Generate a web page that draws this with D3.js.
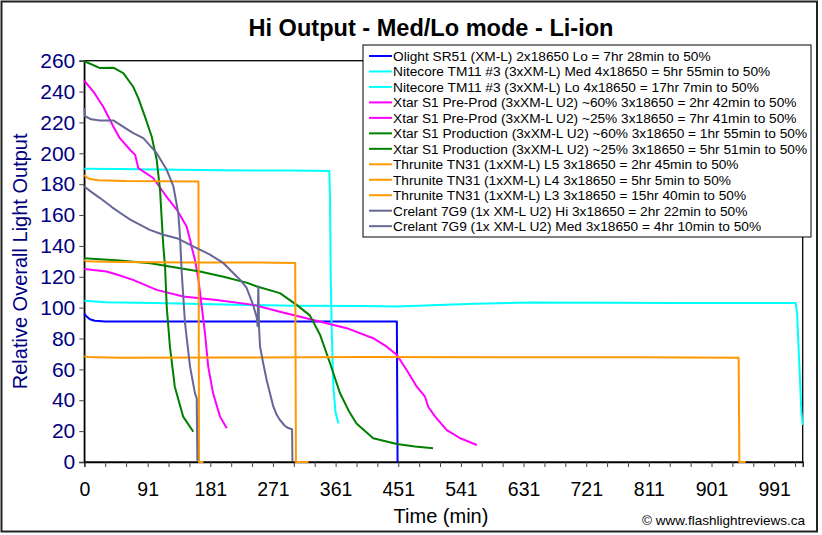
<!DOCTYPE html>
<html><head><meta charset="utf-8">
<script src="https://cdn.jsdelivr.net/npm/d3@7"></script>
<style>
html,body{margin:0;padding:0;background:#fff;}
svg{display:block;font-family:"Liberation Sans",Arial,sans-serif;}
</style></head>
<body>
<script>
// ---- DATA ----
const seriesNames = [
  "Olight SR51 (XM-L) 2x18650 Lo = 7hr 28min to 50%",
  "Nitecore TM11 #3 (3xXM-L) Med 4x18650 = 5hr 55min to 50%",
  "Nitecore TM11 #3 (3xXM-L) Lo 4x18650 = 17hr 7min to 50%",
  "Xtar S1 Pre-Prod (3xXM-L U2) ~60% 3x18650 = 2hr 42min to 50%",
  "Xtar S1 Pre-Prod (3xXM-L U2) ~25% 3x18650 = 7hr 41min to 50%",
  "Xtar S1 Production (3xXM-L U2) ~60% 3x18650 = 1hr 55min to 50%",
  "Xtar S1 Production (3xXM-L U2) ~25% 3x18650 = 5hr 51min to 50%",
  "Thrunite TN31 (1xXM-L) L5 3x18650 = 2hr 45min to 50%",
  "Thrunite TN31 (1xXM-L) L4 3x18650 = 5hr 5min to 50%",
  "Thrunite TN31 (1xXM-L) L3 3x18650 = 15hr 40min to 50%",
  "Crelant 7G9 (1x XM-L U2) Hi 3x18650 = 2hr 22min to 50%",
  "Crelant 7G9 (1x XM-L U2) Med 3x18650 = 4hr 10min to 50%"
];
const seriesColors = ["#0000ff","#00ffff","#00ffff","#ff00ff","#ff00ff","#008000","#008000",
  "#ff9900","#ff9900","#ff9900","#666699","#666699"];

// [time (min), relative output]
const olightLo = [[0,96],[3,94.5],[8,92.5],[15,91.5],[30,91],[100,91],[200,91],[300,91],[400,91],[449,91],[449.5,45],[450,0]];
const nitecoreMed = [[0,190],[50,189.8],[100,189.5],[200,189],[300,188.8],[352,188.5],[353,170],[354,120],[355.5,85],[357,60],[358,47],[361,32],[365,25]];
const nitecoreLo = [[0,104.5],[30,103.5],[100,103],[200,102],[300,101.2],[400,101],[449,100.8],[500,101.5],[560,102.5],[640,103.3],[750,103.2],[850,103],[950,103],[1022,103],[1024,96],[1026,75],[1028,55],[1030,33],[1032,24]];
const xtarPre60 = [[0,247],[13,240],[27,230.3],[41.7,217.4],[51,209.8],[65.7,202.3],[73,199],[77.6,190.4],[99,184],[118,172],[133,163.4],[147,152.5],[152,144],[154,139.6],[159,131],[164,118],[168.7,100.7],[173.4,83.4],[178,61.8],[185,44.5],[195,29.4],[204.6,21.8]];
const xtarPre25 = [[0,125],[32,123.4],[50,121],[70,118],[104,111.5],[142,107.2],[190,105],[243,101.8],[281,97.4],[329,92],[377,86.7],[415,80.2],[434.5,74.7],[449,69.4],[463,59.6],[477.6,48.8],[489.5,42.3],[494,35.8],[504,29.4],[520.7,20.7],[540,15.4],[564,11]];
const xtarProd60 = [[0,260],[1,259.5],[22.6,255.2],[41.7,255.5],[56,252],[70,243.3],[77.6,235.8],[87,223.9],[96.8,210.9],[104,195.8],[108.8,176.3],[111,159],[113.5,140],[116,126.6],[118.4,100.7],[123,74.7],[130,48.8],[142,29.4],[156.6,19.6]];
const xtarProd25 = [[0,132],[50,130.5],[95,128.8],[137.5,125.6],[166,123.4],[200,120],[233,116.2],[248,113.7],[281,109.4],[305,101.8],[324,95],[338.6,82.5],[353,64],[367.4,44.5],[380,33],[391,25],[415,15.4],[449,11.7],[475,10],[501,8.9]];
const thruniteL5 = [[0,186],[3,184.5],[8,183.3],[20,182.5],[60,182],[164,181.8],[164.8,0],[171,0]];
const thruniteL4 = [[0,131],[3,130],[50,129.5],[150,129.3],[250,129.2],[303,129],[304,0],[322,0]];
const thruniteL3 = [[0,68.5],[5,68],[50,67.5],[200,67.7],[400,68],[600,67.8],[800,67.8],[940,67.6],[941,0],[950,0]];
const crelantHi = [[0,229.3],[1,224],[10,222],[22.6,221.3],[41.7,221.3],[55,217.5],[70.4,213.1],[84.8,209.8],[104,200.1],[118.4,189.3],[128,178.5],[135,161.2],[137.5,146],[140,122.3],[144.7,89.9],[151.9,61.8],[159,44.5],[161.5,41.3],[162.4,0.8]];
const crelantMed = [[0,178.5],[10,175],[22.6,171],[40,165],[56,160],[66,157],[94,150.4],[113.5,147.2],[133,145],[161.5,138.5],[180,134.5],[200,128.8],[215,122],[224,118],[233,113],[238,107.2],[243,101],[247.5,94],[249,88],[250,113.7],[251,88],[252.4,75],[257,64],[262,53],[267,44],[271.5,36],[276,31],[281,27.2],[288,23.5],[293,22],[298.5,21.2],[299,0.5]];

const seriesData = [olightLo,nitecoreMed,nitecoreLo,xtarPre60,xtarPre25,xtarProd60,xtarProd25,thruniteL5,thruniteL4,thruniteL3,crelantHi,crelantMed];

const xTickLabels = [0,91,181,271,361,451,541,631,721,811,901,991];
const yTicks = [0,20,40,60,80,100,120,140,160,180,200,220,240,260];

const titleText = "Hi Output - Med/Lo mode - Li-ion";
const xTitle = "Time (min)";
const yTitle = "Relative Overall Light Output";
const credit = "\u00a9 www.flashlightreviews.ca";

// ---- CHART ----
const W = 822, H = 535;
const svg = d3.select("body").append("svg").attr("width",W).attr("height",H);
svg.append("rect").attr("x",0).attr("y",0).attr("width",W).attr("height",H).attr("fill","#fff");
svg.append("rect").attr("x",1.5).attr("y",1.5).attr("width",815.5).attr("height",530).attr("fill","none").attr("stroke","#222").attr("stroke-width",2);

const plot = {left:84.3, right:802.7, top:60.7, bottom:462};
const x = d3.scaleLinear().domain([0,1032]).range([plot.left, plot.right]);
const y = d3.scaleLinear().domain([0,260]).range([plot.bottom, plot.top]);

// plot frame
svg.append("rect").attr("x",plot.left).attr("y",plot.top).attr("width",plot.right-plot.left).attr("height",plot.bottom-plot.top)
  .attr("fill","#fff").attr("stroke","#000").attr("stroke-width",1.3);

// minor x ticks every 30 (relative to label values)
const xMinor = [];
xTickLabels.forEach(v=>{ [0,30,60].forEach(o=>{ if(v+o<=1030) xMinor.push(v+o); }); });
const xAxis = d3.axisBottom(x).tickValues(xMinor).tickSize(5).tickFormat(()=> "");
const gx = svg.append("g").attr("transform",`translate(0,${plot.bottom})`).call(xAxis);
gx.select(".domain").attr("stroke","#000").attr("stroke-width",1.3);
gx.selectAll(".tick line").attr("stroke","#444");
const gxl = svg.append("g").attr("transform",`translate(0,${plot.bottom})`).call(
  d3.axisBottom(x).tickValues(xTickLabels).tickSize(0).tickPadding(20).tickFormat(d=>String(d)));
gxl.select(".domain").remove();
gxl.selectAll("text").attr("font-size",19.5).attr("fill","#000").attr("font-family","'Liberation Sans',Arial,sans-serif");

const yAxis = d3.axisLeft(y).tickValues(yTicks).tickSize(5).tickPadding(4);
const gy = svg.append("g").attr("transform",`translate(${plot.left},0)`).call(yAxis);
gy.select(".domain").attr("stroke","#000").attr("stroke-width",1.3);
gy.selectAll(".tick line").attr("stroke","#444");
gy.selectAll("text").attr("font-size",21).attr("fill","#000080").attr("font-family","'Liberation Sans',Arial,sans-serif");

// series
const line = d3.line().x(d=>x(d[0])).y(d=>y(d[1]));
const gs = svg.append("g");
seriesData.forEach((s,i)=>{
  gs.append("path").datum(s).attr("d",line).attr("fill","none")
    .attr("stroke",seriesColors[i]).attr("stroke-width",2).attr("stroke-linejoin","round");
});

// titles
svg.append("text").attr("x",431).attr("y",36).attr("text-anchor","middle")
  .attr("font-size",23).attr("font-weight","bold").attr("fill","#000")
  .attr("textLength",365).attr("lengthAdjust","spacingAndGlyphs").text(titleText);
svg.append("text").attr("transform",`translate(27,${(plot.top+plot.bottom)/2}) rotate(-90)`).attr("text-anchor","middle")
  .attr("font-size",20).attr("fill","#000080").text(yTitle);
svg.append("text").attr("x",441).attr("y",523).attr("text-anchor","middle")
  .attr("font-size",20).attr("fill","#000").text(xTitle);
svg.append("text").attr("x",805).attr("y",525).attr("text-anchor","end")
  .attr("font-size",13.5).attr("fill","#000").text(credit);

// legend
const lg = svg.append("g");
const lx = 363, ly = 45, lw = 448, lh = 192;
lg.append("rect").attr("x",lx).attr("y",ly).attr("width",lw).attr("height",lh).attr("fill","#fff").attr("stroke","#000").attr("stroke-width",1);
seriesNames.forEach((n,i)=>{
  const cy = 56 + i*15.47;
  lg.append("line").attr("x1",369).attr("x2",392).attr("y1",cy).attr("y2",cy).attr("stroke",seriesColors[i]).attr("stroke-width",2);
  lg.append("text").attr("x",393).attr("y",cy+4.8).attr("font-size",13.7).attr("fill","#000").text(n);
});
</script>
</body></html>
